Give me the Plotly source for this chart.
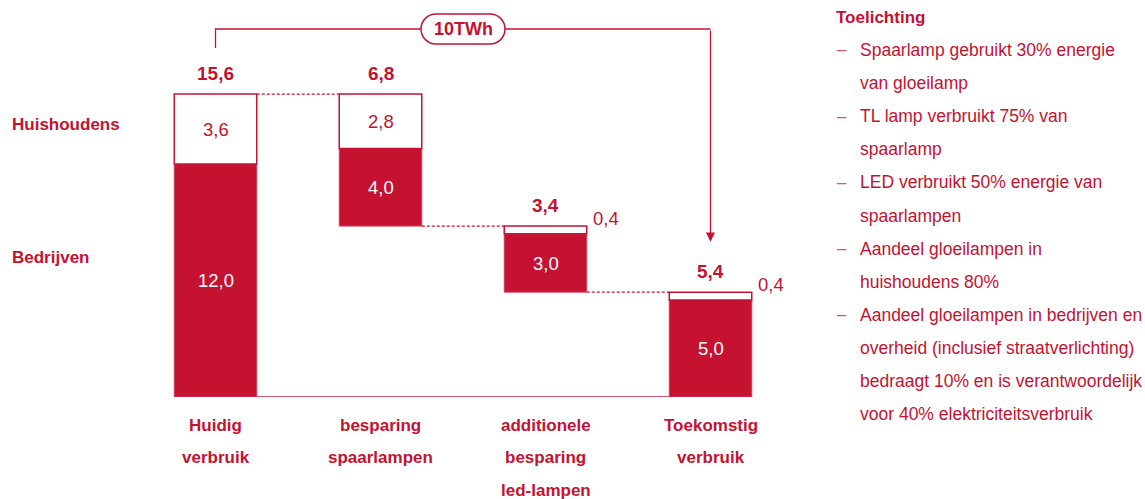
import plotly.graph_objects as go

# --- data -----------------------------------------------------------------
categories = [
    "Huidig<br>verbruik",
    "besparing<br>spaarlampen",
    "additionele<br>besparing<br>led-lampen",
    "Toekomstig<br>verbruik",
]
bedrijven = [12.0, 4.0, 3.0, 5.0]      # lower (red) segment
huishoudens = [3.6, 2.8, 0.4, 0.4]     # upper (white) segment
measure = ["total", "relative", "relative", "total"]
saving_label = "10TWh"
series_names = ["Huishoudens", "Bedrijven"]
notes_title = "Toelichting"
notes = [
    ["Spaarlamp gebruikt 30% energie", "van gloeilamp"],
    ["TL lamp verbruikt 75% van", "spaarlamp"],
    ["LED verbruikt 50% energie van", "spaarlampen"],
    ["Aandeel gloeilampen in", "huishoudens 80%"],
    ["Aandeel gloeilampen in bedrijven en",
     "overheid (inclusief straatverlichting)",
     "bedraagt 10% en is verantwoordelijk",
     "voor 40% elektriciteitsverbruik"],
]

# --- styling --------------------------------------------------------------
RED = "#c41230"
DASH_RED = "#d9576c"
FONT = "Liberation Sans, Arial, sans-serif"
W, H = 1145, 499
ML, MR, MT, MB = 133, 352, 0, 102
PLOT_H = H - MT - MB
BAR_W = 0.5


def fmt(v):
    return f"{v:.1f}".replace(".", ",")


def paper_y(py):
    """Convert a pixel row (from the top of the page) to paper coordinates."""
    return (PLOT_H - (py - MT)) / PLOT_H


# waterfall bookkeeping
totals = [b + h for b, h in zip(bedrijven, huishoudens)]
bottoms, levels = [], []
level = 0.0
for t, m in zip(totals, measure):
    if m == "total":
        bottom = 0.0
        level = t
    else:
        level -= t
        bottom = level
    bottoms.append(round(bottom, 6))
    levels.append(round(level, 6))
tops = [b + t for b, t in zip(bottoms, totals)]
x = list(range(len(categories)))

fig = go.Figure()
fig.add_trace(go.Bar(
    x=x, y=bedrijven, base=bottoms, width=BAR_W, name=series_names[1],
    marker=dict(color=RED, line=dict(color="#d0405a", width=1)),
    hoverinfo="skip",
))
fig.add_trace(go.Bar(
    x=x, y=huishoudens, base=[b + r for b, r in zip(bottoms, bedrijven)],
    width=BAR_W, name=series_names[0],
    marker=dict(color="white", line=dict(color=RED, width=1.5)),
    hoverinfo="skip",
))

shapes = []
annotations = []

# baseline
shapes.append(dict(type="line", xref="x", yref="y", x0=-BAR_W / 2, x1=x[-1] + BAR_W / 2,
                   y0=0, y1=0, line=dict(color="#d4566b", width=2), layer="below"))

# dashed connectors between consecutive bars
for i in range(len(x) - 1):
    shapes.append(dict(type="line", xref="x", yref="y",
                       x0=i + BAR_W / 2, x1=i + 1 - BAR_W / 2,
                       y0=levels[i], y1=levels[i],
                       line=dict(color=RED, width=1.2, dash="3px,2px")))

# bracket from current to future consumption
y_br = tops[0] + 3.35
y_start = tops[0] + 2.37
tip = tops[-1] + 2.6
shapes.append(dict(type="path", xref="x", yref="y",
                   path=f"M 0,{y_start} L 0,{y_br} L {x[-1]},{y_br}",
                   line=dict(color=RED, width=1.3)))
annotations.append(dict(x=x[-1], y=tip, ax=x[-1], ay=y_br, axref="x", ayref="y",
                        xref="x", yref="y", text="", showarrow=True,
                        arrowhead=2, arrowsize=1.4, arrowwidth=1.3, arrowcolor=RED,
                        standoff=0))
# rounded label box
shapes.append(dict(
    type="path", xref="x", yref="y", xsizemode="pixel", ysizemode="pixel",
    xanchor=(x[0] + x[-1]) / 2, yanchor=y_br,
    path=("M -27,-15 L 27,-15 C 35.3,-15 42,-8.3 42,0 C 42,8.3 35.3,15 27,15 "
          "L -27,15 C -35.3,15 -42,8.3 -42,0 C -42,-8.3 -35.3,-15 -27,-15 Z"),
    fillcolor="white", line=dict(color=RED, width=1.5)))
annotations.append(dict(x=(x[0] + x[-1]) / 2, y=y_br, xref="x", yref="y",
                        text=f"<b>{saving_label}</b>", showarrow=False,
                        font=dict(family=FONT, size=18, color=RED)))

for i in x:
    # total above bar
    annotations.append(dict(x=i, y=tops[i], xref="x", yref="y", yshift=21,
                            text=f"<b>{fmt(totals[i])}</b>", showarrow=False,
                            font=dict(family=FONT, size=19, color=RED)))
    # red segment value
    annotations.append(dict(x=i, y=bottoms[i] + bedrijven[i] / 2, xref="x", yref="y",
                            text=fmt(bedrijven[i]), showarrow=False,
                            font=dict(family=FONT, size=18.5, color="white")))
    # white segment value: inside when tall enough, otherwise beside the bar
    if huishoudens[i] >= 1:
        annotations.append(dict(x=i, y=bottoms[i] + bedrijven[i] + huishoudens[i] / 2,
                                xref="x", yref="y", text=fmt(huishoudens[i]),
                                showarrow=False,
                                font=dict(family=FONT, size=18.5, color=RED)))
    else:
        annotations.append(dict(x=i + BAR_W / 2, y=tops[i], xref="x", yref="y",
                                xshift=4, yshift=8, xanchor="left", yanchor="middle",
                                text=fmt(huishoudens[i]), showarrow=False,
                                font=dict(family=FONT, size=18.5, color=RED)))
    # category label, one annotation per line
    for k, line in enumerate(categories[i].split("<br>")):
        annotations.append(dict(x=i, y=0, xref="x", yref="y", yshift=-28 - 32.5 * k,
                                yanchor="middle",
                                text=f"<b>{line}</b>", showarrow=False,
                                font=dict(family=FONT, size=17, color=RED)))

# series labels on the left
for name, py in zip(series_names, [125, 258]):
    annotations.append(dict(x=0, y=paper_y(py), xref="paper", yref="paper",
                            xshift=10 - ML, xanchor="left", yanchor="middle",
                            text=f"<b>{name}</b>",
                            showarrow=False, font=dict(family=FONT, size=17, color=RED)))

# notes panel on the right
plot_right = W - MR
annotations.append(dict(x=1, y=paper_y(17), xref="paper", yref="paper",
                        xshift=834 - plot_right, xanchor="left", yanchor="middle",
                        text=f"<b>{notes_title}</b>", showarrow=False,
                        font=dict(family=FONT, size=17, color=RED)))
py = 50.0
for item in notes:
    annotations.append(dict(x=1, y=paper_y(py), xref="paper", yref="paper",
                            xshift=835 - plot_right, xanchor="left", yanchor="middle",
                            text="–", showarrow=False,
                            font=dict(family=FONT, size=17, color=DASH_RED)))
    for line in item:
        annotations.append(dict(x=1, y=paper_y(py), xref="paper", yref="paper",
                                xshift=858 - plot_right, xanchor="left", yanchor="middle",
                                text=line, showarrow=False,
                                font=dict(family=FONT, size=17.5, color=RED)))
        py += 33.1

fig.update_layout(
    width=W, height=H,
    margin=dict(l=ML, r=MR, t=MT, b=MB),
    barmode="overlay",
    showlegend=False,
    plot_bgcolor="white", paper_bgcolor="white",
    xaxis=dict(range=[-0.5, 3.5], visible=False, fixedrange=True),
    yaxis=dict(range=[0, PLOT_H / 19.42], visible=False, fixedrange=True),
    shapes=shapes,
    annotations=annotations,
    font=dict(family=FONT, color=RED),
)

fig.write_html("out.html", config={"displayModeBar": False})
